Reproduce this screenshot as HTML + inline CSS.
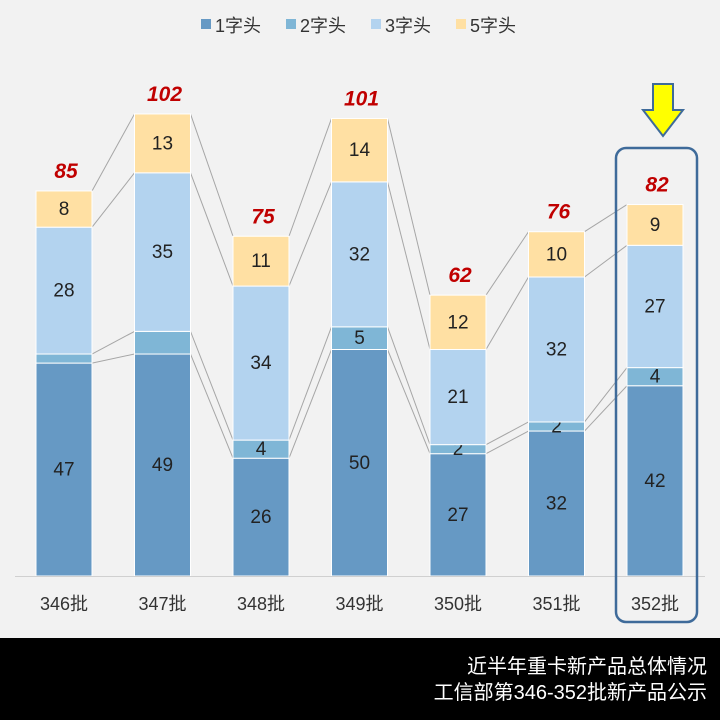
<!DOCTYPE html>
<html><head><meta charset="utf-8"><style>
body{margin:0;width:720px;height:720px;background:#f2f2f2;overflow:hidden;font-family:"Liberation Sans","Noto Sans CJK SC",sans-serif}
</style></head><body>
<svg id="chart" width="720" height="720" xmlns="http://www.w3.org/2000/svg" style="position:absolute;left:0;top:0">
<rect x="0" y="0" width="720" height="720" fill="#f2f2f2"/>
<g id="legend"></g>
<g id="lines"></g>
<g id="bars"></g>
<line x1="15" y1="576.5" x2="705" y2="576.5" stroke="#d0d0d0" stroke-width="1"/>
<g id="xlabels"></g>
<rect x="616" y="148" width="81" height="474" rx="10" fill="none" stroke="#3f6b9a" stroke-width="2.5"/>
<path d="M653 84 H673 V110 H683 L663 136 L643 110 H653 Z" fill="#ffff00" stroke="#3f6b9a" stroke-width="2"/>
<rect x="0" y="638" width="720" height="82" fill="#000"/>
<text x="707" y="673" text-anchor="end" fill="#fff" font-size="20">近半年重卡新产品总体情况</text>
<text x="707" y="699" text-anchor="end" fill="#fff" font-size="20">工信部第346-352批新产品公示</text>
</svg>
<script>
const categories=["346批","347批","348批","349批","350批","351批","352批"];
const s1=[47,49,26,50,27,32,42];
const s2=[2,5,4,5,2,2,4];
const s3=[28,35,34,32,21,32,27];
const s5=[8,13,11,14,12,10,9];
const show2=[false,false,true,true,true,true,true];
const seriesNames=["1字头","2字头","3字头","5字头"];
const NS="http://www.w3.org/2000/svg";
const colors=["#6699c4","#7fb6d6","#b3d3ef","#ffe0a3"];
const series=[s1,s2,s3,s5];
const base=576,k=4.53,bw=56;
const xc=i=>64+i*98.5;
const y=v=>base-v*k;
function mk(tag,attrs,parent){const e=document.createElementNS(NS,tag);for(const a in attrs)e.setAttribute(a,attrs[a]);parent.appendChild(e);return e;}
const bars=document.getElementById('bars'),lines=document.getElementById('lines'),xl=document.getElementById('xlabels'),lg=document.getElementById('legend');
const lx=[201,286,371,456];
seriesNames.forEach((n,j)=>{
 const r=mk('rect',{x:lx[j],y:19,width:10,height:10,fill:colors[j]},lg);
 
 
 const t=mk('text',{x:lx[j]+14,y:32,'font-size':18,fill:'#333'},lg);t.textContent=n;
 
 
});
const cum=categories.map((c,i)=>{let s=0;return series.map(a=>(s+=a[i]));});
for(let i=0;i<categories.length-1;i++){
 for(let j=0;j<4;j++){
  const l=mk('line',{x1:xc(i)+bw/2,y1:y(cum[i][j]),x2:xc(i+1)-bw/2,y2:y(cum[i+1][j]),stroke:'#a6a6a6','stroke-width':1},lines);
  
  
 }
}
categories.forEach((c,i)=>{
 let s=0;
 series.forEach((a,j)=>{
  const v=a[i];
  const r=mk('rect',{x:xc(i)-bw/2,y:y(s+v),width:bw,height:v*k,fill:colors[j],stroke:'#fff','stroke-width':1},bars);
  
  
  if(j!==1||show2[i]){
   const t=mk('text',{x:xc(i),y:y(s+v/2)+6,'text-anchor':'middle','font-size':19,fill:'#222'},bars);
   t.textContent=v;
   
   
  }
  s+=v;
 });
 const t=mk('text',{x:xc(i)+2,y:y(s)-13,'text-anchor':'middle','font-size':21,'font-weight':'bold','font-style':'italic',fill:'#c00000'},bars);
 t.textContent=s;
 
 
 const x=mk('text',{x:xc(i),y:610,'text-anchor':'middle','font-size':18,fill:'#333'},xl);
 x.textContent=c;
 
 
});
</script>
</body></html>
